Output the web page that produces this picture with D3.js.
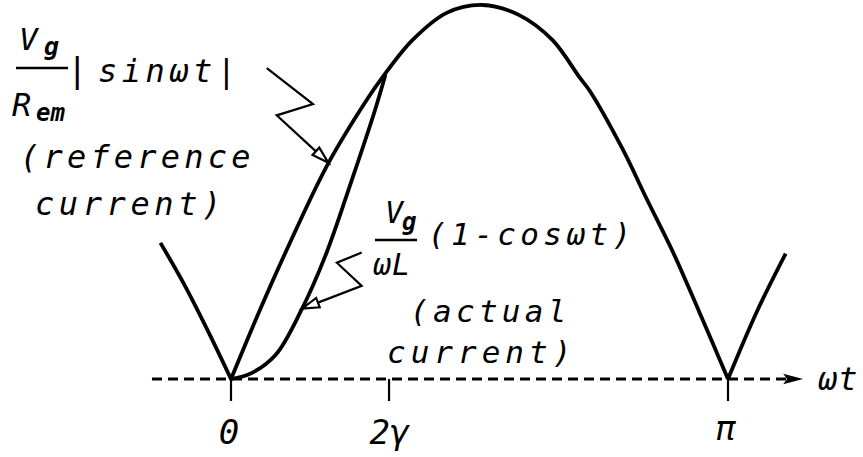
<!DOCTYPE html>
<html>
<head>
<meta charset="utf-8">
<script src="https://cdn.jsdelivr.net/npm/d3@7"></script>
<style>
  html, body { margin: 0; padding: 0; background: #fff; }
  svg { display: block; }
  text { font-family: "DejaVu Sans Mono", monospace; font-style: oblique; fill: #000; }
</style>
</head>
<body>
<svg id="chart"></svg>
<script>
// phase is ωt in units of π, value is current normalised to the peak

// reference current (Vg/Rem)|sin ωt|; segment splits at the cusps
const refPhase = [-0.142, -0.095, -0.047, 0,
  0, 0.056, 0.112, 0.193, 0.273, 0.305, 0.365, 0.434, 0.506, 0.580, 0.647, 0.701, 0.721, 0.787, 0.837, 0.888, 0.942, 1,
  1, 1.058, 1.116];
const refValue = [0.364, 0.255, 0.13, 0,
  0, 0.178, 0.345, 0.57, 0.746, 0.807, 0.906, 0.979, 1.0, 0.973, 0.906, 0.807, 0.772, 0.617, 0.48, 0.343, 0.18, 0,
  0, 0.18, 0.335];
const refSegment = [0, 0, 0, 0,
  1, 1, 1, 1, 1, 1, 1, 1, 1, 1, 1, 1, 1, 1, 1, 1, 1, 1,
  2, 2, 2];

// actual current (Vg/ωL)(1 - cos ωt), up to 2γ
const actPhase = [0, 0.04, 0.09, 0.14, 0.19, 0.24, 0.29, 0.31];
const actValue = [0, 0.015, 0.065, 0.18, 0.33, 0.52, 0.72, 0.81];

// axis ticks
const tickPhase = [0, 0.318, 1];
const tickLabels = ['0', '2\u03b3', '\u03c0'];

// leader lines for the two labels (zig-zag, last point is the arrow tip)
const refLeader = [[0.072, 0.831], [0.165, 0.735], [0.092, 0.705], [0.196, 0.578]];
const actLeader = [[0.263, 0.338], [0.213, 0.311], [0.263, 0.249], [0.143, 0.188]];

const width = 863, height = 457;

const svg = d3.select('#chart')
  .attr('width', width)
  .attr('height', height);

const x = d3.scaleLinear().domain([0, 1]).range([231, 728]);
const y = d3.scaleLinear().domain([0, 1]).range([379, 5]);

// ---- horizontal ωt axis (dashed with arrow) ----
const axisG = svg.append('g').attr('class', 'axis');
const axisEnd = x(1.145);
axisG.append('line')
  .attr('x1', x(-0.159)).attr('x2', axisEnd - 14)
  .attr('y1', y(0)).attr('y2', y(0))
  .attr('stroke', '#000')
  .attr('stroke-width', 2.8)
  .attr('stroke-dasharray', '10,6');
axisG.append('path')
  .attr('d', `M${axisEnd},${y(0)} L${axisEnd - 15},${y(0) - 4} L${axisEnd - 12},${y(0)} L${axisEnd - 15},${y(0) + 4}Z`)
  .attr('fill', '#000')
  .attr('stroke', '#000')
  .attr('stroke-width', 1.5);

axisG.selectAll('line.tick')
  .data(tickPhase)
  .join('line')
  .attr('class', 'tick')
  .attr('x1', d => x(d)).attr('x2', d => x(d))
  .attr('y1', y(0)).attr('y2', y(0) + 22)
  .attr('stroke', '#000')
  .attr('stroke-width', 2.2);

axisG.selectAll('text.ticklabel')
  .data(tickPhase)
  .join('text')
  .attr('class', 'ticklabel')
  .attr('x', (d, i) => x(d) + (i === 1 ? 1 : -2))
  .attr('y', (d, i) => i === 2 ? 440 : 444)
  .attr('text-anchor', 'middle')
  .attr('font-size', 34)
  .text((d, i) => tickLabels[i]);

axisG.append('text')
  .attr('x', 818).attr('y', 390)
  .attr('font-size', 32)
  .attr('letter-spacing', 1)
  .text('\u03c9t');

// ---- curves ----
const line = d3.line()
  .x(d => x(d[0]))
  .y(d => y(d[1]))
  .curve(d3.curveCatmullRom.alpha(0.5));

const refPoints = refPhase.map((p, i) => [p, refValue[i], refSegment[i]]);
const segments = d3.groups(refPoints, d => d[2]).map(g => g[1]);

svg.append('g').attr('class', 'reference')
  .selectAll('path')
  .data(segments)
  .join('path')
  .attr('d', line)
  .attr('fill', 'none')
  .attr('stroke', '#000')
  .attr('stroke-width', 3.8)
  .attr('stroke-linejoin', 'round');

svg.append('path')
  .attr('class', 'actual')
  .attr('d', line(actPhase.map((p, i) => [p, actValue[i]])))
  .attr('fill', 'none')
  .attr('stroke', '#000')
  .attr('stroke-width', 3.8)
  .attr('stroke-linecap', 'round');

// ---- leaders with open arrowheads ----
function drawLeader(pts) {
  const px = pts.map(p => [x(p[0]), y(p[1])]);
  const g = svg.append('g').attr('class', 'leader');
  const tip = px[px.length - 1];
  const prev = px[px.length - 2];
  const ang = Math.atan2(tip[1] - prev[1], tip[0] - prev[0]);
  const len = 17, hw = 5;
  const bx = tip[0] - len * Math.cos(ang), by = tip[1] - len * Math.sin(ang);
  const shaft = px.slice(0, -1).concat([[bx, by]]);
  g.append('path')
    .attr('d', d3.line()(shaft))
    .attr('fill', 'none')
    .attr('stroke', '#000')
    .attr('stroke-width', 2.2)
    .attr('stroke-linejoin', 'miter');
  const nx = -Math.sin(ang) * hw, ny = Math.cos(ang) * hw;
  g.append('path')
    .attr('d', `M${tip[0]},${tip[1]} L${bx + nx},${by + ny} L${bx - nx},${by - ny}Z`)
    .attr('fill', '#fff')
    .attr('stroke', '#000')
    .attr('stroke-width', 2.2);
}
drawLeader(refLeader);
drawLeader(actLeader);

// ---- labels ----
const lab = svg.append('g').attr('class', 'labels');

function txt(str, tx, ty, size, spacing, weight) {
  return lab.append('text')
    .attr('x', tx).attr('y', ty)
    .attr('font-size', size)
    .attr('letter-spacing', spacing || 0)
    .attr('font-weight', weight || 'normal')
    .text(str);
}

// Vg / Rem |sin ωt|
txt('V', 19, 50, 31);
txt('g', 44, 55, 25, 0, 'bold');
lab.append('line')
  .attr('x1', 16).attr('x2', 68).attr('y1', 68).attr('y2', 68)
  .attr('stroke', '#000').attr('stroke-width', 2.6);
txt('R', 12, 116, 32);
txt('em', 36, 121, 24, 0, 'bold');
txt('|', 67, 82, 34);
txt('sin\u03c9t|', 98, 82, 32, 4.5);
txt('(reference', 20, 168, 32, 4.2);
txt('current)', 35, 215, 32, 4.6);

// Vg / ωL (1-cos ωt)
txt('V', 385, 223, 30);
txt('g', 402, 230, 24, 0, 'bold');
lab.append('line')
  .attr('x1', 375).attr('x2', 417).attr('y1', 240).attr('y2', 240)
  .attr('stroke', '#000').attr('stroke-width', 2.6);
txt('\u03c9L', 373, 275, 30, 1);
txt('(1-cos\u03c9t)', 428, 245, 31, 4.4);
txt('(actual', 410, 322, 31, 4.3);
txt('current)', 387, 363, 31, 5);
</script>
</body>
</html>
